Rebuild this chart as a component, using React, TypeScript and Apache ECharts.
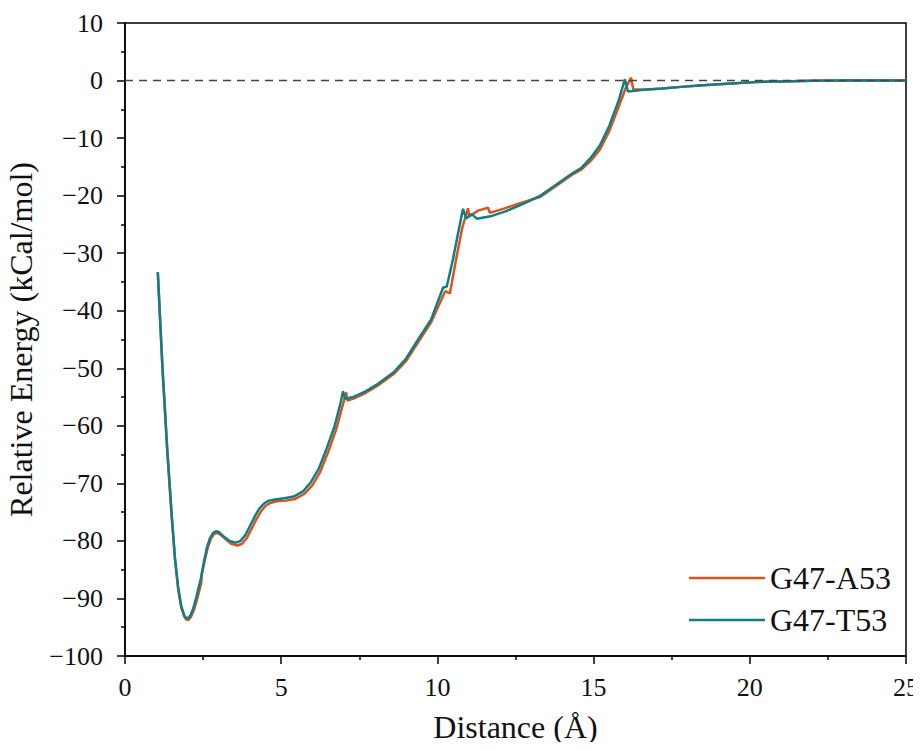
import React, { useEffect, useRef } from "react";
import * as echarts from "echarts";

const seriesNames = ["G47-A53", "G47-T53"];
const xTicks = [0, 5, 10, 15, 20, 25];
const yTicks = [-100, -90, -80, -70, -60, -50, -40, -30, -20, -10, 0, 10];

const distA = [1.05, 1.2, 1.35, 1.5, 1.6, 1.7, 1.8, 1.9, 1.97, 2.04, 2.11, 2.2, 2.3, 2.38, 2.44, 2.46, 2.55, 2.65, 2.75, 2.85, 2.95, 3.05, 3.2, 3.4, 3.6, 3.75, 3.9, 4.05, 4.2, 4.35, 4.5, 4.65, 4.85, 5.15, 5.45, 5.75, 6.0, 6.25, 6.5, 6.75, 6.95, 7.08, 7.12, 7.3, 7.7, 8.1, 8.6, 9.0, 9.44, 9.8, 10.25, 10.4, 10.6, 10.8, 10.98, 11.02, 11.3, 11.62, 11.68, 12.1, 12.6, 13.3, 13.8, 14.3, 14.6, 14.9, 15.2, 15.5, 15.8, 16.05, 16.2, 16.27, 16.6, 17.2, 17.8, 18.5, 19.4, 20.2, 21, 22, 23, 25];
const energyA = [-33.3, -50, -64, -76, -83.2, -88.3, -91.6, -93.2, -93.7, -93.7, -93.2, -92.1, -90.3, -88.6, -87.3, -85.8, -83.5, -81.2, -79.6, -78.8, -78.6, -78.9, -79.6, -80.5, -80.8, -80.5, -79.5, -77.9, -76.3, -74.9, -73.9, -73.4, -73.1, -73.0, -72.7, -71.8, -70.3, -68, -64.6, -60.8, -56.8, -54.2, -55.6, -55.3, -54.3, -53, -51, -48.7, -45, -42, -36.6, -37, -31, -25.5, -22.2, -23.6, -22.6, -22.1, -23, -22.3, -21.4, -20.2, -18.3, -16.4, -15.5, -14, -12, -8.8, -4.6, -1, 0.5, -1.5, -1.6, -1.4, -1.1, -0.8, -0.5, -0.25, -0.15, -0.05, 0, 0];

const distT = [1.05, 1.2, 1.35, 1.5, 1.6, 1.7, 1.8, 1.9, 1.96, 2.02, 2.09, 2.18, 2.28, 2.36, 2.43, 2.52, 2.62, 2.72, 2.82, 2.92, 3.02, 3.15, 3.35, 3.55, 3.7, 3.85, 4.0, 4.15, 4.3, 4.45, 4.6, 4.8, 5.1, 5.4, 5.7, 5.95, 6.2, 6.45, 6.7, 6.88, 6.98, 7.05, 7.3, 7.7, 8.1, 8.6, 9.0, 9.44, 9.8, 10.18, 10.3, 10.5, 10.7, 10.82, 10.92, 11.1, 11.26, 11.7, 12.2, 12.8, 13.3, 13.8, 14.3, 14.6, 14.9, 15.2, 15.5, 15.8, 16.0, 16.1, 16.6, 17.2, 17.8, 18.5, 19.4, 20.2, 21, 22, 23, 25];
const energyT = [-33.3, -50, -64, -76, -83, -88, -91.3, -93, -93.4, -93.4, -93, -91.8, -89.9, -88, -86.5, -83.8, -81.2, -79.5, -78.6, -78.3, -78.5, -79.2, -80, -80.3, -80, -79, -77.4, -75.8, -74.4, -73.5, -73, -72.8, -72.6, -72.3, -71.4, -69.8, -67.5, -64, -60.2, -56.5, -54, -55.3, -55, -54, -52.7, -50.7, -48.3, -44.5, -41.5, -36, -35.8, -31, -25.5, -22.3, -24, -23.2, -24, -23.6, -22.7, -21.3, -20, -18.1, -16.2, -15.2, -13.5, -11.3, -7.9, -3.5, 0.2, -1.9, -1.6, -1.4, -1.1, -0.8, -0.5, -0.25, -0.15, -0.05, 0, 0];

const colors = ["#d9541c", "#0f7e86"];
const serif = "Liberation Serif";

export default function App() {
  const ref = useRef<HTMLDivElement>(null);
  useEffect(() => {
    if (!ref.current) return;
    const chart = echarts.init(ref.current, null, { renderer: "svg" });
    const fmtY = (v: number) => String(v).replace("-", "\u2212");
    chart.setOption({
      animation: false,
      backgroundColor: "#fff",
      textStyle: { fontFamily: serif, color: "#111" },
      grid: {
        left: 125,
        right: 15,
        top: 23,
        bottom: 94,
        show: true,
        borderColor: "#000",
        borderWidth: 1.5,
        containLabel: false,
        outerBoundsMode: "none",
      },
      legend: {
        data: seriesNames,
        orient: "vertical",
        left: 684,
        top: 556,
        icon: "rect",
        itemWidth: 76,
        itemHeight: 2.5,
        itemGap: 8,
        textStyle: { fontFamily: serif, fontSize: 32, color: "#111", lineHeight: 34 },
      },
      xAxis: {
        type: "value",
        min: xTicks[0],
        max: xTicks[xTicks.length - 1],
        interval: 5,
        name: "Distance (\u00c5)",
        nameLocation: "middle",
        nameGap: 55,
        nameTextStyle: { fontFamily: serif, fontSize: 32, color: "#111" },
        axisLine: { onZero: false, lineStyle: { color: "#000", width: 1.5 } },
        axisTick: { show: true, length: 8, lineStyle: { color: "#000", width: 1.5 } },
        minorTick: { show: true, splitNumber: 2, length: 4, lineStyle: { color: "#000", width: 1.5 } },
        splitLine: { show: false },
        axisLabel: { fontFamily: serif, fontSize: 26, color: "#111", margin: 18 },
      },
      yAxis: {
        type: "value",
        min: yTicks[0],
        max: yTicks[yTicks.length - 1],
        interval: 10,
        name: "Relative Energy (kCal/mol)",
        nameLocation: "middle",
        nameGap: 88,
        nameTextStyle: { fontFamily: serif, fontSize: 32, color: "#111" },
        axisLine: { show: true, onZero: false, lineStyle: { color: "#000", width: 1.5 } },
        axisTick: { show: true, length: 8, lineStyle: { color: "#000", width: 1.5 } },
        minorTick: { show: true, splitNumber: 2, length: 4, lineStyle: { color: "#000", width: 1.5 } },
        splitLine: { show: false },
        axisLabel: { fontFamily: serif, fontSize: 26, color: "#111", margin: 22, formatter: fmtY },
      },
      series: [
        {
          name: seriesNames[0],
          type: "line",
          symbol: "none",
          color: colors[0],
          lineStyle: { width: 2.5 },
          data: distA.map((d, i) => [d, energyA[i]]),
          markLine: {
            silent: true,
            symbol: "none",
            label: { show: false },
            lineStyle: { color: "#444", type: [8, 6], width: 1.4 },
            data: [{ yAxis: 0 }],
          },
          z: 2,
        },
        {
          name: seriesNames[1],
          type: "line",
          symbol: "none",
          color: colors[1],
          lineStyle: { width: 2.5 },
          data: distT.map((d, i) => [d, energyT[i]]),
          z: 3,
        },
      ],
    });
    return () => chart.dispose();
  }, []);
  return <div ref={ref} style={{ width: 921, height: 750, margin: -8 }} />;
}
